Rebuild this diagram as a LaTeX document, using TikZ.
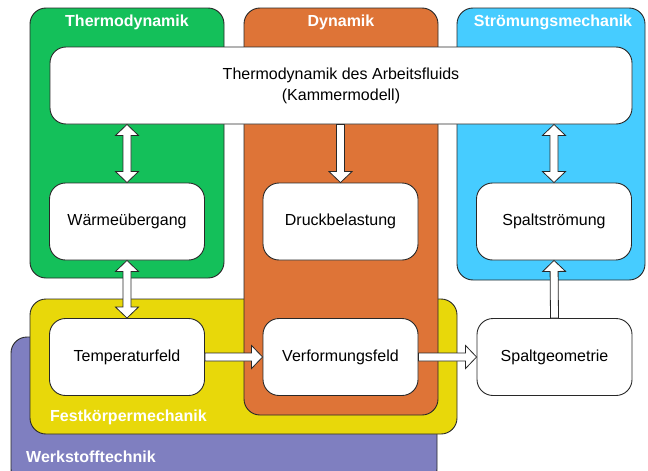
\documentclass[tikz,border=0pt]{standalone}
\usepackage{fontspec}
\setmainfont{Liberation Sans}
\usetikzlibrary{calc}
\definecolor{cgreen}{RGB}{20,192,90}
\definecolor{corange}{RGB}{222,116,55}
\definecolor{cblue}{RGB}{70,204,255}
\definecolor{cyellow}{RGB}{232,216,10}
\definecolor{cpurple}{RGB}{127,127,192}
\definecolor{cline}{RGB}{40,40,40}
\tikzset{
  group/.style={draw=cline, line width=0.9pt, rounded corners=16pt},
  glabel/.style={text=white, font=\fontsize{16}{19}\selectfont\bfseries, inner sep=0pt},
  box/.style={draw=cline, line width=0.9pt, fill=white, rounded corners=16pt,
    minimum width=155pt, minimum height=77pt, inner sep=0pt, align=center,
    font=\fontsize{16}{21}\selectfont},
  barrow/.style={draw=cline, line width=0.8pt, fill=white, to path={
    let \p1=(\tikztostart), \p2=(\tikztotarget),
        \n1={veclen(\x2-\x1,\y2-\y1)},
        \n2={(\x2-\x1)/\n1}, \n3={(\y2-\y1)/\n1} in
    ({\x1-4*\n3}, {\y1+4*\n2})
    -- ({\x2-11*\n2-4*\n3}, {\y2-11*\n3+4*\n2})
    -- ({\x2-11*\n2-11.5*\n3}, {\y2-11*\n3+11.5*\n2})
    -- (\x2,\y2)
    -- ({\x2-11*\n2+11.5*\n3}, {\y2-11*\n3-11.5*\n2})
    -- ({\x2-11*\n2+4*\n3}, {\y2-11*\n3-4*\n2})
    -- ({\x1+4*\n3}, {\y1-4*\n2}) -- cycle (\tikztotarget)}},
  dbarrow/.style={draw=cline, line width=0.8pt, fill=white, to path={
    let \p1=(\tikztostart), \p2=(\tikztotarget),
        \n1={veclen(\x2-\x1,\y2-\y1)},
        \n2={(\x2-\x1)/\n1}, \n3={(\y2-\y1)/\n1} in
    (\x1,\y1)
    -- ({\x1+11*\n2-11.5*\n3}, {\y1+11*\n3+11.5*\n2})
    -- ({\x1+11*\n2-4*\n3}, {\y1+11*\n3+4*\n2})
    -- ({\x2-11*\n2-4*\n3}, {\y2-11*\n3+4*\n2})
    -- ({\x2-11*\n2-11.5*\n3}, {\y2-11*\n3+11.5*\n2})
    -- (\x2,\y2)
    -- ({\x2-11*\n2+11.5*\n3}, {\y2-11*\n3-11.5*\n2})
    -- ({\x2-11*\n2+4*\n3}, {\y2-11*\n3-4*\n2})
    -- ({\x1+11*\n2+4*\n3}, {\y1+11*\n3-4*\n2})
    -- ({\x1+11*\n2+11.5*\n3}, {\y1+11*\n3-11.5*\n2})
    -- cycle (\tikztotarget)}}
}
\begin{document}
\begin{tikzpicture}[x=1pt,y=-1pt]
\useasboundingbox (0,0) rectangle (648,471);
% groups
\draw[group, fill=cpurple] (11,337) rectangle (437,485);
\draw[group, fill=cyellow] (30,299) rectangle (457,434);
\draw[group, fill=cgreen] (30,8) rectangle (224,278);
\draw[group, fill=corange] (244,8) rectangle (438,415);
\draw[group, fill=cblue] (457,8) rectangle (645,280);
\node[glabel] (lthermo) at (127,22) {Thermodynamik};
\node[glabel] (ldyn) at (341,22) {Dynamik};
\node[glabel] (lstroem) at (553,22) {Strömungsmechanik};
\node[glabel, anchor=west] (lfest) at (50,417) {Festkörpermechanik};
\node[glabel, anchor=west] (lwerk) at (26,457) {Werkstofftechnik};
% nodes
\node[box, minimum width=582pt] (top) at (341,85.5) {Thermodynamik des Arbeitsfluids\\(Kammermodell)};
\node[box] (waerme) at (127,221.5) {Wärmeübergang};
\node[box] (druck) at (340.5,221.5) {Druckbelastung};
\node[box] (spaltst) at (554,221.5) {Spaltströmung};
\node[box] (temp) at (127,357) {Temperaturfeld};
\node[box] (verf) at (340.5,357) {Verformungsfeld};
\node[box] (spaltgeo) at (554.5,357) {Spaltgeometrie};
% connectors
\path[dbarrow] (waerme.north |- top.south) to (waerme.north);
\path[barrow] (druck.north |- top.south) to (druck.north);
\path[dbarrow] (spaltst.north |- top.south) to (spaltst.north);
\path[dbarrow] (waerme.south) to (temp.north);
\path[barrow] (temp.east) to (verf.west);
\path[barrow] (verf.east) to (spaltgeo.west);
\path[barrow] (spaltgeo.north) to (spaltst.south);
\end{tikzpicture}
\end{document}
